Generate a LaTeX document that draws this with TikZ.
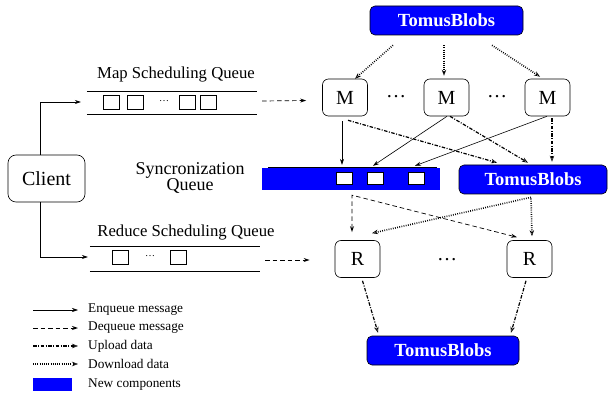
\documentclass[tikz,border=0pt]{standalone}
\usepackage{fontspec}
\setmainfont{Liberation Serif}
\usetikzlibrary{arrows.meta,calc}
\definecolor{nblue}{RGB}{0,0,255}
\tikzset{
  tb/.style={rectangle, rounded corners=5pt, draw=black, line width=0.6pt, fill=nblue, text=white,
     font=\bfseries\fontsize{18.5}{20}\selectfont, inner sep=0pt},
  proc/.style={rectangle, rounded corners=6pt, draw=black, line width=0.6pt, minimum width=45pt,
     minimum height=37pt, inner sep=0pt, font=\fontsize{20}{22}\selectfont},
  slot/.style={rectangle, draw=black, line width=0.5pt, minimum width=16pt, minimum height=14pt, inner sep=0pt},
  qline/.style={line width=0.7pt},
  enq/.style={line width=0.6pt, -{Stealth[length=6pt,width=4pt]}},
  deq/.style={line width=0.7pt, dash pattern=on 4.5pt off 3pt, -{Stealth[length=6pt,width=4pt,open]}},
  upl/.style={line width=1.2pt, dash pattern=on 3.5pt off 1.5pt on 1pt off 1.5pt,
     -{Stealth[length=6pt,width=4.5pt,open,line width=0.6pt]}},
  dnl/.style={line width=1.6pt, dash pattern=on 0.8pt off 1.4pt,
     -{Stealth[length=6pt,width=4.5pt,open,line width=0.6pt]}},
  lbl/.style={inner sep=0pt, font=\fontsize{16.7}{18}\selectfont},
  leg/.style={inner sep=0pt, anchor=west, font=\fontsize{13.3}{15}\selectfont},
  dots/.style={inner sep=0pt, font=\fontsize{20}{20}\selectfont},
}
\begin{document}
\begin{tikzpicture}[x=1pt,y=-1pt]
\useasboundingbox (0,0) rectangle (608,398);

% TomusBlobs
\node[tb, minimum width=153pt, minimum height=29pt] (tbT) at (446.5,20.5) {TomusBlobs};
\node[tb, minimum width=148pt, minimum height=29pt] (tbM) at (533,179.5) {TomusBlobs};
\node[tb, minimum width=152pt, minimum height=29pt] (tbB) at (443,350.5) {TomusBlobs};

% workers
\node[proc] (M1) at (345,97.5) {M};
\node[proc] (M2) at (446.5,97.5) {M};
\node[proc] (M3) at (547.5,97.5) {M};
\node[dots] (d1) at (396,97) {\ldots};
\node[dots] (d2) at (497,97) {\ldots};
\node[proc] (R1) at (357.5,259) {R};
\node[proc] (R2) at (529.5,259) {R};
\node[dots] (d3) at (447,260) {\ldots};

% client
\node[rectangle, rounded corners=8pt, draw=black, line width=0.6pt, minimum width=77pt, minimum height=47pt,
  inner sep=0pt, font=\fontsize{20}{22}\selectfont] (client) at (46.5,178.5) {Client};

% map queue
\node[lbl] (mqt) at (176,75) {Map Scheduling Queue};
\node[minimum width=170pt, minimum height=22pt, inner sep=0pt] (mq) at (172,103) {};
\draw[qline] (mq.north west) -- (mq.north east);
\draw[qline] (mq.south west) -- (mq.south east);
\node[slot] (ms1) at (111.5,102.5) {};
\node[slot] (ms2) at (135.5,102.5) {};
\node[inner sep=0pt, font=\fontsize{10}{10}\selectfont] (msd) at (164,101) {\ldots};
\node[slot] (ms3) at (187.5,102.5) {};
\node[slot] (ms4) at (208.5,102.5) {};

% reduce queue
\node[lbl] (rqt) at (186,233) {Reduce Scheduling Queue};
\node[minimum width=170pt, minimum height=24pt, inner sep=0pt] (rq) at (175,259) {};
\draw[qline] (rq.north west) -- (rq.north east);
\draw[qline] (rq.south west) -- (rq.south east);
\node[slot] (rs1) at (120.5,257.5) {};
\node[inner sep=0pt, font=\fontsize{10}{10}\selectfont] (rsd) at (150,256) {\ldots};
\node[slot] (rs2) at (178.5,257.5) {};

% synchronization queue
\node[inner sep=0pt, align=center, font=\fontsize{18}{15}\selectfont] (sqt) at (190,178) {Syncronization\\Queue};
\node[rectangle, fill=nblue, minimum width=178pt, minimum height=22pt, inner sep=0pt] (sq) at (351,179) {};
\draw[line width=0.8pt] ([xshift=6pt]sq.north west) -- ([xshift=-3pt]sq.north east);
\node[slot, fill=white, minimum height=12pt] (ss1) at (344,178) {};
\node[slot, fill=white, minimum height=12pt] (ss2) at (375,178) {};
\node[slot, fill=white, minimum height=12pt] (ss3) at (416,178) {};

% client connectors
\draw[enq] ([xshift=-6.5pt]client.north) |- ([shift={(-6,-1)}]mq.west);
\draw[enq] ([xshift=-6.5pt]client.south) |- ([shift={(-2,-2)}]rq.west);

% queue -> workers
\draw[deq] ([shift={(5,-2)}]mq.east) -- ([shift={(-16,3)}]M1.west);
\draw[deq] ([shift={(5,1)}]rq.east) -- ([shift={(-25,1)}]R1.west);

% download from top TomusBlobs
\draw[dnl] ([shift={(-53.5,10)}]tbT.south) -- ([shift={(10,0)}]M1.north);
\draw[dnl] ([shift={(-2.5,10)}]tbT.south) -- ([shift={(-2.5,-3)}]M2.north);
\draw[dnl] ([shift={(45.5,10)}]tbT.south) -- ([shift={(-7.5,-2)}]M3.north);

% enqueue to sync queue
\draw[enq] ([shift={(-3,5)}]M1.south) -- ([shift={(-9,-3)}]sq.north);
\draw[enq] ([shift={(0.5,0)}]M2.south) -- ([shift={(22,-2)}]sq.north);
\draw[enq] ([shift={(-0.5,0)}]M3.south) -- ([shift={(64,-2)}]sq.north);

% upload to middle TomusBlobs
\draw[upl] ([shift={(3,4)}]M1.south) -- ([shift={(-36,-2)}]tbM.north);
\draw[upl] ([shift={(3.5,0)}]M2.south) -- ([shift={(-5,-2)}]tbM.north);
\draw[upl] ([shift={(4.5,2)}]M3.south) -- ([shift={(19,-3)}]tbM.north);

% dequeue from sync queue to reducers
\draw[deq, {Stealth[length=6pt,width=4pt,open]}-{Stealth[length=6pt,width=4pt,open]}]
  ([shift={(-5.5,-8)}]R1.north) -- ([shift={(1,5)}]sq.south) -- ([shift={(-12.5,-3)}]R2.north);

% download from middle TomusBlobs to reducers
\draw[dnl, {Stealth[length=6pt,width=4.5pt,open,line width=0.6pt]}-{Stealth[length=6pt,width=4.5pt,open,line width=0.6pt]}]
  ([shift={(14.5,-7)}]R1.north) -- ([shift={(-2,3)}]tbM.south) -- ([shift={(2.5,-4)}]R2.north);

% upload from reducers
\draw[upl] ([shift={(5,3)}]R1.south) -- ([shift={(-65,-3)}]tbB.north);
\draw[upl] ([shift={(-3.5,3)}]R2.south) -- ([shift={(68,-3)}]tbB.north);

% legend
\node[leg] (l1) at (88,310) {Enqueue message};
\node[leg] (l2) at (88,328) {Dequeue message};
\node[leg] (l3) at (88,346) {Upload data};
\node[leg] (l4) at (88,364) {Download data};
\node[leg] (l5) at (88,385) {New components};
\draw[enq] ([xshift=-55pt]l1.west) -- ([xshift=-10pt]l1.west);
\draw[deq] ([xshift=-55pt]l2.west) -- ([xshift=-10pt]l2.west);
\draw[upl] ([xshift=-55pt]l3.west) -- ([xshift=-10pt]l3.west);
\draw[dnl] ([xshift=-55pt]l4.west) -- ([xshift=-10pt]l4.west);
\node[rectangle, fill=nblue, minimum width=39pt, minimum height=13pt, inner sep=0pt, anchor=east] (lb) at ([shift={(-16,-0.5)}]l5.west) {};
\end{tikzpicture}
\end{document}
